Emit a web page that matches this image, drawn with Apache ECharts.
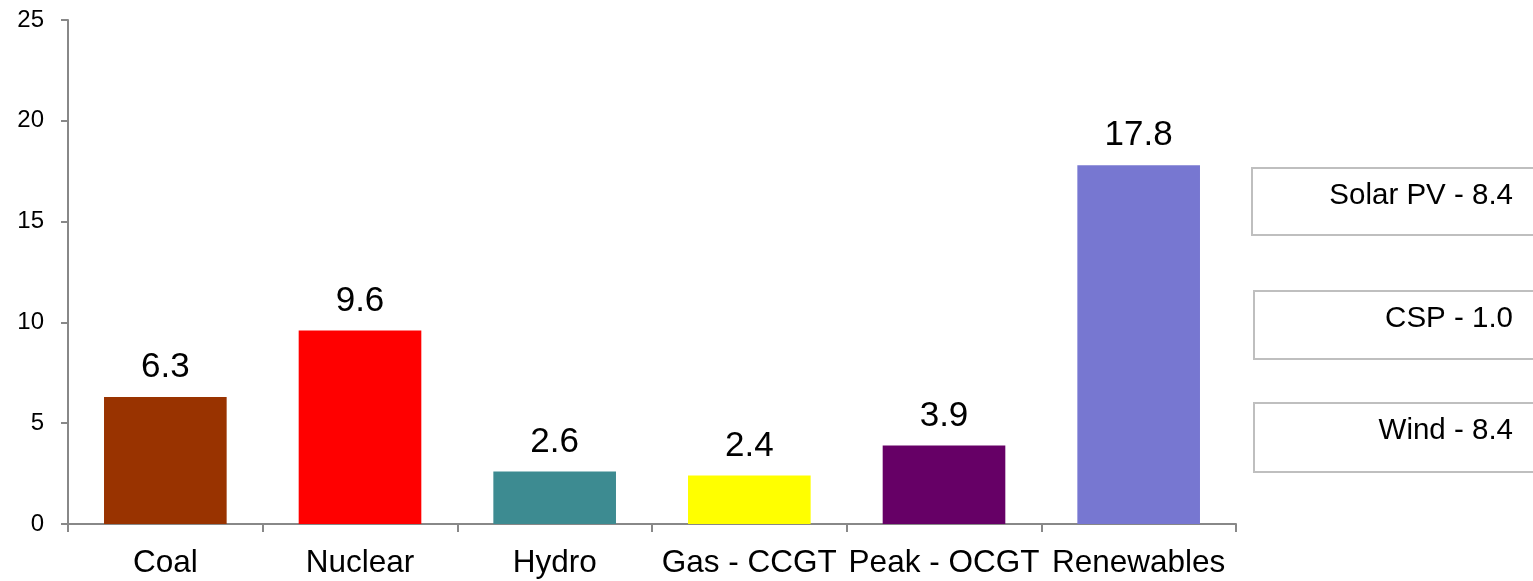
<!DOCTYPE html>
<html>
<head>
<meta charset="utf-8">
<script src="https://cdn.jsdelivr.net/npm/echarts@6/dist/echarts.min.js"></script>
<style>
  html, body { margin: 0; padding: 0; background: #fff; }
  #chart { width: 1533px; height: 581px; }
</style>
</head>
<body>
<div id="chart"></div>
<script>
// chart data
var categories = ['Coal', 'Nuclear', 'Hydro', 'Gas - CCGT', 'Peak - OCGT', 'Renewables']
var values = [6.3, 9.6, 2.6, 2.4, 3.9, 17.8]
var barColors = ['#993300', '#ff0000', '#3d8b91', '#ffff00', '#660066', '#7777d1']
var yTicks = [0, 5, 10, 15, 20, 25]
// renewables breakdown (boxes on the right)
var renewNames = ['Solar PV', 'CSP', 'Wind']
var renewValues = [8.4, 1.0, 8.4]

var FONT = '"Liberation Sans", Arial, sans-serif'
var boxTops = [167, 290, 402]
var boxLefts = [1251, 1253, 1253]
var boxHeights = [67, 68, 69]

var graphics = []
renewNames.forEach(function (n, i) {
  graphics.push({
    type: 'rect',
    left: boxLefts[i],
    top: boxTops[i],
    shape: { width: 300, height: boxHeights[i] },
    style: { fill: '#fff', stroke: '#bfbfbf', lineWidth: 2 }
  })
  graphics.push({
    type: 'text',
    right: 20,
    top: boxTops[i] + 14,
    style: {
      text: n + ' - ' + renewValues[i].toFixed(1),
      font: '29.5px ' + FONT,
      fill: '#000'
    }
  })
})

var chart = echarts.init(document.getElementById('chart'))
chart.setOption({
  backgroundColor: '#fff',
  animation: false,
  grid: {
    left: 68,
    right: 297,
    top: 20,
    bottom: 57
  },
  xAxis: {
    type: 'category',
    data: categories,
    axisLine: { lineStyle: { color: '#888', width: 2 } },
    axisTick: { show: true, length: 8, lineStyle: { color: '#888', width: 2 } },
    axisLabel: {
      interval: 0,
      margin: 23,
      color: '#000',
      fontSize: 31.5,
      fontFamily: FONT
    }
  },
  yAxis: {
    type: 'value',
    min: yTicks[0],
    max: yTicks[yTicks.length - 1],
    interval: yTicks[1] - yTicks[0],
    axisLine: { show: true, lineStyle: { color: '#888', width: 2 } },
    axisTick: { show: true, length: 7, lineStyle: { color: '#888', width: 2 } },
    axisLabel: {
      margin: 24,
      color: '#000',
      fontSize: 24,
      fontFamily: FONT
    },
    splitLine: { show: false }
  },
  series: [{
    type: 'bar',
    barCategoryGap: '37%',
    data: values.map(function (v, i) {
      return { value: v, itemStyle: { color: barColors[i] } }
    }),
    label: {
      show: true,
      position: 'top',
      distance: 12,
      color: '#000',
      fontSize: 35,
      fontFamily: FONT,
      formatter: function (p) { return p.value.toFixed(1) }
    }
  }],
  graphic: graphics
})
</script>
</body>
</html>
